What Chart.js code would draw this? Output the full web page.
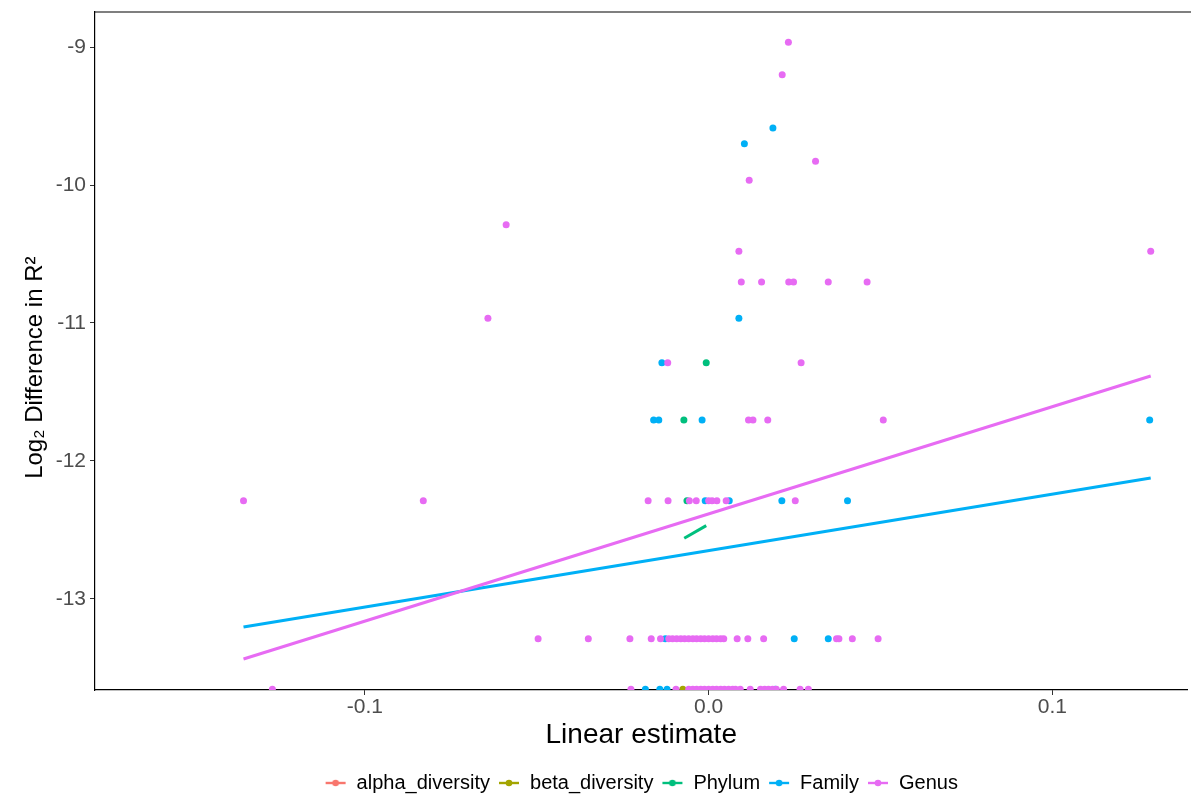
<!DOCTYPE html>
<html>
<head>
<meta charset="utf-8">
<script src="https://cdn.jsdelivr.net/npm/chart.js@4.4.0/dist/chart.umd.min.js"></script>
<style>
  html, body { margin: 0; padding: 0; background: #fff; }
  #wrap { width: 1191px; height: 795px; }
</style>
</head>
<body>
<div id="wrap"><canvas id="chart"></canvas></div>
<script>
// legend order and ggplot-style hue colours
const seriesNames = ['alpha_diversity', 'beta_diversity', 'Phylum', 'Family', 'Genus'];
const seriesColors = ['#F8766D', '#A3A500', '#00BF7D', '#00B0F6', '#E76BF3'];

// x tick positions and labels
const xTickValues = [-0.1, 0, 0.1];
const xTickLabels = ['-0.1', '0.0', '0.1'];
const yTickValues = [-13, -12, -11, -10, -9];

// [linear estimate, log2 difference in R^2]
const alphaPoints = [];
const betaPoints = [[-0.0075, -13.655]];
const phylumPoints = [
  [-0.0063, -12.288], [-0.0072, -11.703], [-0.0007, -11.288]
];
const familyPoints = [
  [-0.0184, -13.655], [-0.0142, -13.655], [-0.0121, -13.655], [0.0194, -13.655],
  [-0.0126, -13.288], [0.0249, -13.288], [0.0348, -13.288],
  [-0.0010, -12.288], [0.0060, -12.288], [0.0213, -12.288], [0.0404, -12.288],
  [-0.0160, -11.703], [-0.0145, -11.703], [-0.0019, -11.703], [0.1283, -11.703],
  [-0.0136, -11.288],
  [0.0088, -10.966],
  [0.0104, -9.700],
  [0.0187, -9.587]
];
const genusPoints = [
  [-0.1269, -13.655], [-0.0226, -13.655], [-0.0095, -13.655],
  [-0.0058, -13.655], [-0.0046, -13.655], [-0.0035, -13.655], [-0.0023, -13.655],
  [-0.0012, -13.655], [0.0000, -13.655], [0.0012, -13.655], [0.0023, -13.655],
  [0.0035, -13.655], [0.0046, -13.655], [0.0058, -13.655], [0.0070, -13.655],
  [0.0078, -13.655], [0.0092, -13.655], [0.0121, -13.655], [0.0151, -13.655],
  [0.0163, -13.655], [0.0174, -13.655], [0.0186, -13.655], [0.0197, -13.655],
  [0.0218, -13.655], [0.0266, -13.655], [0.0290, -13.655],
  [-0.0496, -13.288], [-0.0350, -13.288], [-0.0229, -13.288], [-0.0167, -13.288],
  [-0.0140, -13.288], [-0.0116, -13.288], [-0.0105, -13.288], [-0.0093, -13.288],
  [-0.0081, -13.288], [-0.0070, -13.288], [-0.0058, -13.288], [-0.0046, -13.288],
  [-0.0035, -13.288], [-0.0023, -13.288], [-0.0012, -13.288], [0.0000, -13.288],
  [0.0012, -13.288], [0.0023, -13.288], [0.0035, -13.288], [0.0044, -13.288],
  [0.0083, -13.288], [0.0114, -13.288], [0.0160, -13.288], [0.0372, -13.288],
  [0.0379, -13.288], [0.0418, -13.288], [0.0493, -13.288],
  [-0.1353, -12.288], [-0.0830, -12.288], [-0.0176, -12.288], [-0.0118, -12.288],
  [-0.0056, -12.288], [-0.0036, -12.288], [0.0000, -12.288], [0.0010, -12.288],
  [0.0024, -12.288], [0.0051, -12.288], [0.0252, -12.288],
  [0.0116, -11.703], [0.0129, -11.703], [0.0172, -11.703], [0.0508, -11.703],
  [-0.0119, -11.288], [0.0269, -11.288],
  [-0.0642, -10.966],
  [0.0095, -10.703], [0.0154, -10.703], [0.0233, -10.703], [0.0247, -10.703],
  [0.0348, -10.703], [0.0461, -10.703],
  [0.0088, -10.480], [0.1286, -10.480],
  [-0.0589, -10.288],
  [0.0118, -9.966],
  [0.0311, -9.828],
  [0.0232, -8.966],
  [0.0214, -9.200]
];

// linear fits per group (endpoints)
const phylumFit = [[-0.0071, -12.560], [-0.0007, -12.469]];
const familyFit = [[-0.1353, -13.203], [0.1286, -12.123]];
const genusFit = [[-0.1353, -13.435], [0.1286, -11.384]];

const toXY = (pts) => pts.map(([x, y]) => ({ x, y }));

// small line-with-dot key like ggplot's legend glyph
function legendIcon(color) {
  const c = document.createElement('canvas');
  c.width = 22;
  c.height = 10;
  const g = c.getContext('2d');
  g.strokeStyle = color;
  g.lineWidth = 2.4;
  g.beginPath();
  g.moveTo(1, 5);
  g.lineTo(21, 5);
  g.stroke();
  g.fillStyle = color;
  g.beginPath();
  g.arc(11, 5, 3.3, 0, Math.PI * 2);
  g.fill();
  return c;
}
const legendIcons = seriesColors.map(legendIcon);

function scatterSet(name, pts, color, order) {
  return {
    type: 'scatter',
    label: name,
    data: toXY(pts),
    backgroundColor: color,
    borderColor: color,
    borderWidth: 0,
    pointRadius: 3.5,
    pointHoverRadius: 3.5,
    order: order
  };
}
function fitSet(name, pts, color, order) {
  return {
    type: 'line',
    label: name + ' fit',
    data: toXY(pts),
    borderColor: color,
    borderWidth: 3,
    pointRadius: 0,
    fill: false,
    order: order
  };
}

// top edge of the panel
const panelTop = {
  id: 'panelTop',
  afterDraw(chart) {
    const { ctx, chartArea } = chart;
    ctx.save();
    ctx.strokeStyle = '#000';
    ctx.lineWidth = 1.2;
    ctx.beginPath();
    ctx.moveTo(chartArea.left - 0.6, chartArea.top);
    ctx.lineTo(chart.width, chartArea.top);
    ctx.stroke();
    ctx.restore();
  }
};

const font = "'Liberation Sans', Arial, Helvetica, sans-serif";

new Chart(document.getElementById('chart'), {
  data: {
    datasets: [
      fitSet('Genus', genusFit, seriesColors[4], 0),
      fitSet('Family', familyFit, seriesColors[3], 1),
      fitSet('Phylum', phylumFit, seriesColors[2], 2),
      scatterSet('Genus', genusPoints, seriesColors[4], 3),
      scatterSet('Family', familyPoints, seriesColors[3], 4),
      scatterSet('Phylum', phylumPoints, seriesColors[2], 5),
      scatterSet('beta_diversity', betaPoints, seriesColors[1], 6),
      scatterSet('alpha_diversity', alphaPoints, seriesColors[0], 7)
    ]
  },
  options: {
    responsive: true,
    maintainAspectRatio: false,
    animation: false,
    layout: { padding: { left: 0, right: 0, top: 12, bottom: -8 } },
    plugins: {
      tooltip: { enabled: false },
      legend: {
        position: 'bottom',
        fullSize: false,
        labels: {
          usePointStyle: true,
          pointStyleWidth: 22,
          boxHeight: 10,
          padding: 8,
          color: '#1a1a1a',
          font: { family: font, size: 20 },
          generateLabels: () => seriesNames.map((name, i) => ({
            text: name,
            pointStyle: legendIcons[i],
            fillStyle: seriesColors[i],
            strokeStyle: seriesColors[i],
            lineWidth: 0,
            hidden: false
          }))
        }
      }
    },
    scales: {
      x: {
        type: 'linear',
        min: -0.1785,
        max: 0.1393,
        afterFit: (scale) => {
          scale.height = 75;
          scale.paddingLeft = 0;
          scale.paddingRight = 0;
        },
        afterBuildTicks: (scale) => { scale.ticks = xTickValues.map(v => ({ value: v })); },
        grid: { display: true, drawOnChartArea: false, drawTicks: true, tickLength: 5, color: '#333', lineWidth: 1 },
        border: { display: true, color: '#000', width: 1.2 },
        ticks: {
          color: '#4d4d4d',
          padding: 0,
          font: { family: font, size: 21 },
          callback: (v) => xTickLabels[xTickValues.indexOf(v)] ?? ''
        },
        title: {
          display: true,
          text: 'Linear estimate',
          color: '#000',
          font: { family: font, size: 28 },
          padding: { top: 0, bottom: 13 }
        }
      },
      y: {
        type: 'linear',
        min: -13.66,
        max: -8.746,
        afterFit: (scale) => {
          scale.width = 95;
          scale.paddingTop = 0;
          scale.paddingBottom = 0;
        },
        afterBuildTicks: (scale) => { scale.ticks = yTickValues.map(v => ({ value: v })); },
        grid: { display: true, drawOnChartArea: false, drawTicks: true, tickLength: 5, color: '#333', lineWidth: 1 },
        border: { display: true, color: '#000', width: 1.2 },
        ticks: {
          color: '#4d4d4d',
          padding: 4,
          font: { family: font, size: 21 },
          callback: (v) => String(v)
        },
        title: {
          display: true,
          text: 'Log₂ Difference in R²     ',
          color: '#000',
          font: { family: font, size: 24 },
          padding: { top: 21, bottom: 0 }
        }
      }
    }
  },
  plugins: [panelTop]
});
</script>
</body>
</html>
